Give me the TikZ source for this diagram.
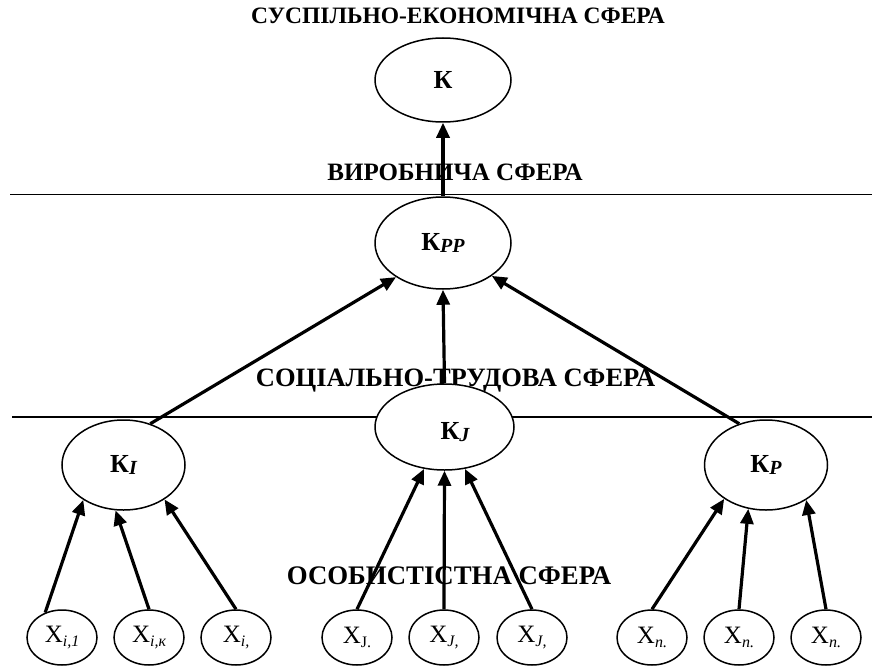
\documentclass[tikz,border=0pt]{standalone}
\usepackage{fontspec}
\setmainfont{Liberation Serif}
\usetikzlibrary{arrows.meta,shapes.geometric}
\begin{document}
\begin{tikzpicture}[x=1pt,y=-1pt,
  el/.style={draw,ellipse,line width=1.5pt,fill=white,inner sep=0pt},
  bigel/.style={el,minimum width=136pt,minimum height=90pt},
  midel/.style={el,minimum width=123pt,minimum height=90pt},
  smallel/.style={el,minimum width=70pt,minimum height=55pt,font=\fontsize{25}{27}\selectfont},
  klabel/.style={font=\bfseries\fontsize{26}{28}\selectfont},
  arr/.style={line width=3.2pt,-{Triangle[length=15pt,width=13pt]}},
  sep/.style={line width=1.6pt},
  sphere/.style={font=\bfseries\fontsize{25}{28}\selectfont,inner sep=0pt}
]
\useasboundingbox (0,0) rectangle (872,666);
% separators
\coordinate (l1a) at (10,194.5);
\coordinate (l1b) at (872,194.5);
\coordinate (l2a) at (12,417);
\coordinate (l2b) at (872,417);
\draw[sep] (l1a) -- (l1b);
\draw[sep] (l2a) -- (l2b);
% sphere labels
\node[sphere,font=\bfseries\fontsize{23.5}{26}\selectfont] (s1) at (458,16) {СУСПІЛЬНО-ЕКОНОМІЧНА СФЕРА};
\node[sphere] (s2) at (455,172) {ВИРОБНИЧА СФЕРА};
\node[sphere,font=\bfseries\fontsize{26.5}{29}\selectfont] (s3) at (455.5,381) {СОЦІАЛЬНО-ТРУДОВА СФЕРА};
\node[sphere,font=\bfseries\fontsize{26.8}{29}\selectfont] (s4) at (449,576) {ОСОБИСТІСТНА СФЕРА};
% main ellipses
\node[bigel,minimum height=84pt,klabel] (K) at (443,80) {К};
\node[bigel,minimum height=92pt,klabel] (KPP) at (443,243) {К\raisebox{-2pt}{\fontsize{20}{22}\selectfont\itshape PP}};
\node[bigel,minimum width=139pt,minimum height=86pt] (KJ) at (444.5,427) {};
\node[klabel] (KJt) at (455,432) {К\raisebox{-2pt}{\fontsize{20}{22}\selectfont\itshape J}};
\node[midel,klabel] (KI) at (123.5,465) {К\raisebox{-2pt}{\fontsize{20}{22}\selectfont\itshape I}};
\node[midel,klabel] (KP) at (766,465) {К\raisebox{-2pt}{\fontsize{20}{22}\selectfont\itshape P}};
% bottom ellipses
\node[smallel] (xi1) at (62,637.5) {Х\raisebox{-4pt}{\fontsize{16}{18}\selectfont\itshape i,1}};
\node[smallel] (xik) at (149,637.5) {Х\raisebox{-4pt}{\fontsize{16}{18}\selectfont\itshape i,к}};
\node[smallel] (xi3) at (236,637.5) {Х\raisebox{-4pt}{\fontsize{16}{18}\selectfont\itshape i,}};
\node[smallel] (xj1) at (357,637.5) {Х\raisebox{-4pt}{\fontsize{16}{18}\selectfont J.}};
\node[smallel] (xj2) at (444,637.5) {Х\raisebox{-4pt}{\fontsize{16}{18}\selectfont\itshape J,}};
\node[smallel] (xj3) at (532,637.5) {Х\raisebox{-4pt}{\fontsize{16}{18}\selectfont\itshape J,}};
\node[smallel] (xn1) at (652,637.5) {Х\raisebox{-4pt}{\fontsize{16}{18}\selectfont\itshape n.}};
\node[smallel] (xn2) at (739,637.5) {Х\raisebox{-4pt}{\fontsize{16}{18}\selectfont\itshape n.}};
\node[smallel] (xn3) at (826,637.5) {Х\raisebox{-4pt}{\fontsize{16}{18}\selectfont\itshape n.}};
% arrows
\draw[arr] (KPP.90) -- (K.270);
\draw[arr] (KJ.90) -- (KPP.270);
\draw[arr] (KI.57) -- (KPP.216);
\draw[arr] (KP.123) -- (KPP.326);
\draw[arr] (xi1.124) -- (KI.221);
\draw[arr] (xik.90) -- (KI.260);
\draw[arr] (xi3.90) -- (KI.320);
\draw[arr] (xj1.90) -- (KJ.244);
\draw[arr] (xj2.90) -- (KJ.270);
\draw[arr] (xj3.90) -- (KJ.296);
\draw[arr] (xn1.90) -- (KP.219);
\draw[arr] (xn2.90) -- (KP.248);
\draw[arr] (xn3.90) -- (KP.319);
\end{tikzpicture}
\end{document}
